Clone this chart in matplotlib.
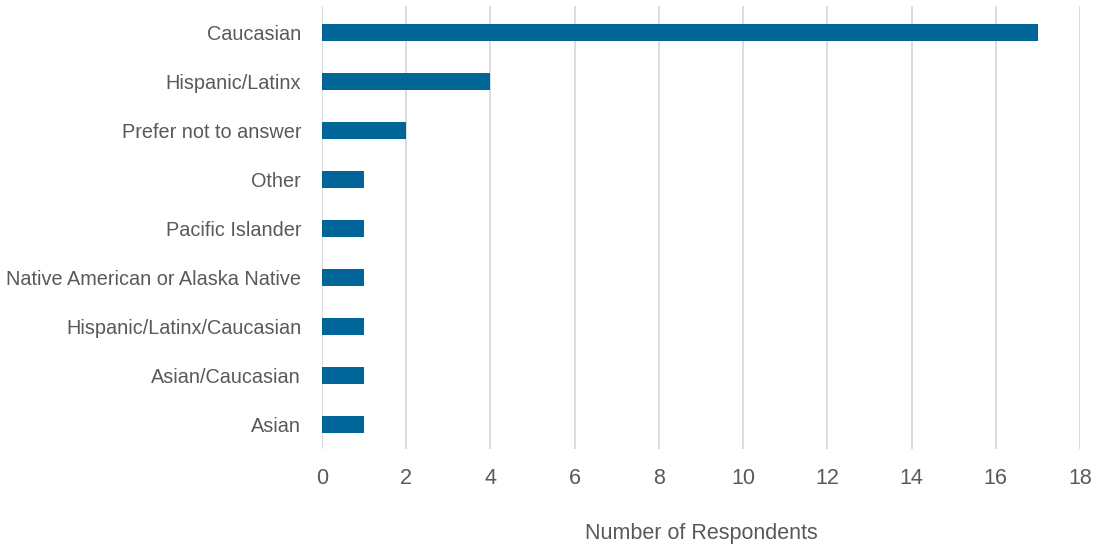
import matplotlib.pyplot as plt

categories = ["Caucasian", "Hispanic/Latinx", "Prefer not to answer", "Other",
              "Pacific Islander", "Native American or Alaska Native",
              "Hispanic/Latinx/Caucasian", "Asian/Caucasian", "Asian"]
counts = [17, 4, 2, 1, 1, 1, 1, 1, 1]
xticks = list(range(0, 19, 2))

plt.rcParams["font.family"] = ["Liberation Sans", "DejaVu Sans"]

txt = "#595959"
fig = plt.figure(figsize=(10.97, 5.46), dpi=100)
ax = fig.add_axes([0.2935, 0.1777, 0.691, 0.812])

ypos = list(range(len(categories)))
ax.barh(ypos, counts, height=0.35, color="#006699", zorder=3)
ax.set_ylim(len(categories) - 0.5, -0.55)
ax.set_xlim(0, 18)
ax.set_xticks(xticks)
ax.set_yticks(ypos)
ax.set_yticklabels(categories)
ax.grid(axis="x", color="#d9d9d9", linewidth=1.3, zorder=0)
for s in ax.spines.values():
    s.set_visible(False)
ax.tick_params(axis="both", length=0, labelcolor=txt)
ax.tick_params(axis="x", labelsize=15.5, pad=14)
ax.tick_params(axis="y", labelsize=14.3, pad=15)
ax.set_xlabel("Number of Respondents", fontsize=15.5, color=txt, labelpad=24)

fig.savefig("out.png", dpi=100)
